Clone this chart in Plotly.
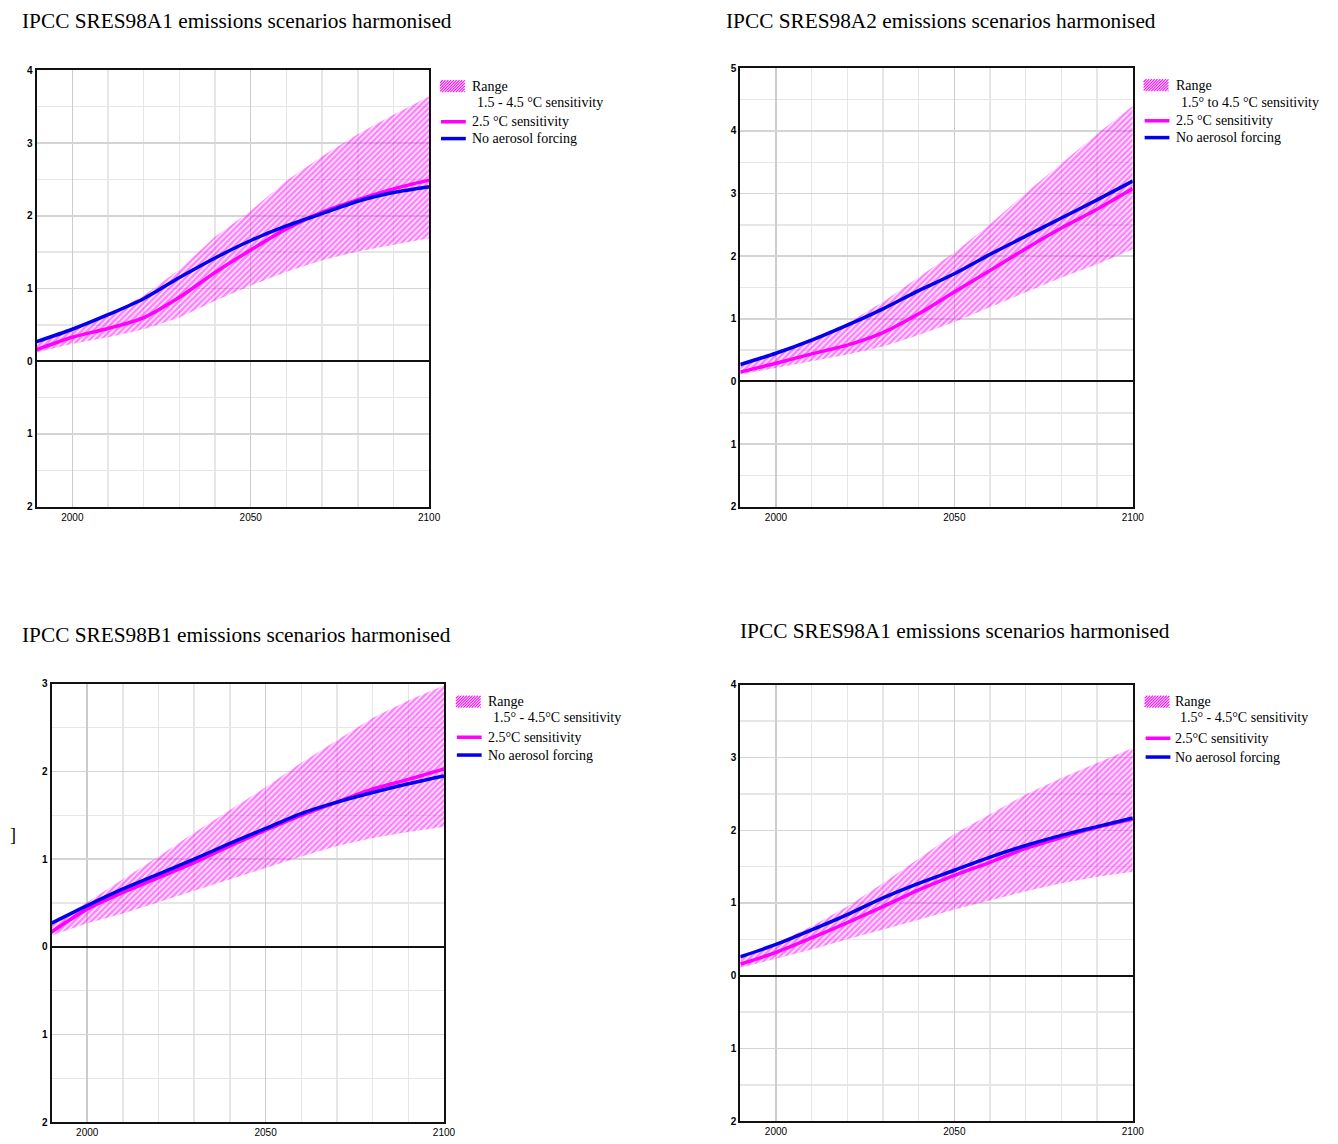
import plotly.graph_objects as go

years = [1990, 2000, 2010, 2020, 2030, 2040, 2050, 2060, 2070, 2080, 2090, 2100]

# Panel 1: SRES98 A1
a1_upper = [0.26, 0.44, 0.64, 0.90, 1.26, 1.71, 2.07, 2.48, 2.82, 3.12, 3.39, 3.64]
a1_lower = [0.12, 0.24, 0.33, 0.44, 0.60, 0.83, 1.04, 1.23, 1.39, 1.51, 1.60, 1.69]
a1_mid = [0.16, 0.33, 0.45, 0.60, 0.88, 1.22, 1.53, 1.82, 2.05, 2.22, 2.37, 2.49]
a1_noaer = [0.27, 0.44, 0.64, 0.86, 1.15, 1.42, 1.66, 1.86, 2.03, 2.20, 2.32, 2.40]

# Panel 2: SRES98 A2
a2_upper = [0.27, 0.46, 0.69, 0.93, 1.27, 1.66, 2.06, 2.51, 3.01, 3.48, 3.95, 4.40]
a2_lower = [0.11, 0.22, 0.32, 0.43, 0.56, 0.74, 0.95, 1.19, 1.43, 1.66, 1.87, 2.11]
a2_mid = [0.15, 0.29, 0.44, 0.58, 0.78, 1.08, 1.43, 1.77, 2.12, 2.45, 2.75, 3.08]
a2_noaer = [0.27, 0.45, 0.66, 0.90, 1.16, 1.45, 1.72, 2.03, 2.32, 2.61, 2.90, 3.20]

# Panel 3: SRES98 B1
b1_upper = [0.25, 0.51, 0.77, 1.03, 1.30, 1.56, 1.82, 2.10, 2.36, 2.61, 2.81, 2.98]
b1_lower = [0.13, 0.27, 0.38, 0.51, 0.64, 0.77, 0.90, 1.03, 1.15, 1.24, 1.31, 1.37]
b1_mid = [0.17, 0.43, 0.62, 0.79, 0.96, 1.15, 1.33, 1.50, 1.65, 1.80, 1.91, 2.03]
b1_noaer = [0.27, 0.47, 0.66, 0.83, 1.00, 1.18, 1.35, 1.52, 1.65, 1.76, 1.86, 1.95]

# Panel 4: SRES98 A1 (second)
a1b_upper = [0.26, 0.45, 0.68, 0.95, 1.27, 1.61, 1.95, 2.22, 2.49, 2.72, 2.93, 3.13]
a1b_lower = [0.11, 0.23, 0.36, 0.50, 0.63, 0.77, 0.91, 1.04, 1.16, 1.27, 1.36, 1.43]
a1b_mid = [0.16, 0.32, 0.52, 0.73, 0.95, 1.18, 1.38, 1.56, 1.75, 1.90, 2.04, 2.15]
a1b_noaer = [0.26, 0.43, 0.63, 0.84, 1.07, 1.27, 1.45, 1.63, 1.79, 1.93, 2.05, 2.17]

titles = [
    "IPCC SRES98A1 emissions scenarios harmonised",
    "IPCC SRES98A2 emissions scenarios harmonised",
    "IPCC SRES98B1 emissions scenarios harmonised",
    "IPCC SRES98A1 emissions scenarios harmonised",
]
range_line1 = "Range"
range_line2 = [
    "1.5 - 4.5 °C sensitivity",
    "1.5° to 4.5 °C sensitivity",
    "1.5° - 4.5°C sensitivity",
    "1.5° - 4.5°C sensitivity",
]
mid_labels = ["2.5 °C sensitivity", "2.5 °C sensitivity", "2.5°C sensitivity", "2.5°C sensitivity"]
noaer_label = "No aerosol forcing"
y_tops = [4, 5, 3, 4]
y_bottom = -2
x_tick_vals = [2000, 2050, 2100]
x_tick_text = ["2000", "2050", "2100"]

panels = [
    (a1_upper, a1_lower, a1_mid, a1_noaer),
    (a2_upper, a2_lower, a2_mid, a2_noaer),
    (b1_upper, b1_lower, b1_mid, b1_noaer),
    (a1b_upper, a1b_lower, a1b_mid, a1b_noaer),
]

W, H = 1338, 1144


def px(xp):
    return xp / W


def py(yp):
    return 1 - yp / H


# pixel boxes in page coordinates (left, right, top, bottom)
boxes = [(37, 433, 65, 506), (747, 1143, 63, 506), (52, 448, 685, 1128), (747, 1143, 686, 1127)]
title_pos = [(20, 15), (731, 15), (20, 636), (745, 632)]
# legend: swatch left, text left, row centres (range, range line 2, mid, no-aerosol)
legend_geo = [
    (444, 474, [81, 98, 117, 134]),
    (1154, 1185, [80, 98, 116, 133]),
    (460, 490, [703, 719, 739, 757]),
    (1155, 1184, [703, 719, 740, 759]),
]

MAG = "#ff00ff"
BLUE = "#0000ee"
LEG_FONT = dict(family="Liberation Serif", size=14, color="black")

fig = go.Figure()
annotations = []
shapes = []
layout = dict(
    width=W, height=H, margin=dict(l=0, r=0, t=0, b=0),
    plot_bgcolor="white", paper_bgcolor="white", showlegend=False,
)

for i, (up, lo, mid, na) in enumerate(panels):
    n = "" if i == 0 else str(i + 1)
    xa, ya = "x" + n, "y" + n
    fig.add_trace(go.Scatter(x=years, y=lo, mode="lines", line=dict(width=0, color=MAG),
                             xaxis=xa, yaxis=ya, hoverinfo="skip"))
    fig.add_trace(go.Scatter(x=years, y=up, mode="lines", line=dict(width=0, color=MAG),
                             fill="tonexty", fillcolor="rgba(0,0,0,0)",
                             fillpattern=dict(shape="/", fgcolor=MAG, bgcolor="rgba(255,255,255,0)",
                                              size=4, solidity=0.65),
                             name=range_line1 + " " + range_line2[i], xaxis=xa, yaxis=ya))
    fig.add_trace(go.Scatter(x=years, y=mid, mode="lines",
                             line=dict(width=3.5, color=MAG, shape="spline", smoothing=0.8),
                             name=mid_labels[i], xaxis=xa, yaxis=ya))
    fig.add_trace(go.Scatter(x=years, y=na, mode="lines",
                             line=dict(width=3.5, color=BLUE, shape="spline", smoothing=0.8),
                             name=noaer_label, xaxis=xa, yaxis=ya))

    l, r, t, b = boxes[i]
    yvals = list(range(y_bottom, y_tops[i] + 1))
    layout["xaxis" + n] = dict(
        domain=[px(l), px(r)], range=[1990, 2100], anchor=ya,
        tickvals=x_tick_vals, ticktext=x_tick_text, showgrid=True, gridcolor="#cccccc", gridwidth=1.5,
        minor=dict(tickvals=list(range(1990, 2101, 10)), showgrid=True, gridcolor="#e6e6e6", gridwidth=1.5),
        showline=True, mirror=True, linecolor="#111111", linewidth=2, ticks="",
        tickfont=dict(family="Liberation Sans", size=10, color="black"), zeroline=False,
        fixedrange=True,
    )
    layout["yaxis" + n] = dict(
        domain=[py(b), py(t)], range=[y_bottom, y_tops[i]], anchor=xa,
        tickvals=yvals, ticktext=["<b>%d</b>" % abs(v) for v in yvals],
        showgrid=True, gridcolor="#d4d4d4", gridwidth=1.5,
        minor=dict(dtick=0.5, showgrid=True, gridcolor="#e6e6e6", gridwidth=1.5),
        showline=True, mirror=True, linecolor="#111111", linewidth=2, ticks="",
        zeroline=True, zerolinecolor="#111111", zerolinewidth=2,
        tickfont=dict(family="Liberation Sans", size=10, color="black"),
        fixedrange=True,
    )

    # title
    tx, ty = title_pos[i]
    annotations.append(dict(
        text=titles[i], x=px(tx), y=py(ty), xref="paper", yref="paper",
        xanchor="left", yanchor="middle", showarrow=False,
        font=dict(family="Liberation Serif", size=21.3, color="black"),
    ))

    # legend (drawn manually)
    sx, tx2, rows = legend_geo[i]
    texts = [range_line1, range_line2[i], mid_labels[i], noaer_label]
    offs = [0, 5, 0, 0]
    for txt, ry, o in zip(texts, rows, offs):
        annotations.append(dict(
            text=txt, x=px(tx2 + o), y=py(ry), xref="paper", yref="paper",
            xanchor="left", yanchor="middle", showarrow=False, font=LEG_FONT,
        ))
    # hatched swatch
    x0, x1 = sx, sx + 25
    yt, yb = rows[0] - 6, rows[0] + 6
    hgt = yb - yt
    k = x0 - hgt
    while k < x1:
        ax, ay, bx, by = k, yb, k + hgt, yt
        if ax < x0:
            ay = yb - (x0 - ax)
            ax = x0
        if bx > x1:
            by = yt + (bx - x1)
            bx = x1
        if bx > ax:
            shapes.append(dict(type="line", xref="paper", yref="paper",
                               x0=px(ax), y0=py(ay), x1=px(bx), y1=py(by),
                               line=dict(color=MAG, width=1.1)))
        k += 2.8
    # line swatches
    for ry, col in ((rows[2], MAG), (rows[3], BLUE)):
        shapes.append(dict(type="line", xref="paper", yref="paper",
                           x0=px(sx + 1), y0=py(ry), x1=px(sx + 26), y1=py(ry),
                           line=dict(color=col, width=3.5)))

annotations.append(dict(
    text="]", x=px(13), y=py(838), xref="paper", yref="paper",
    xanchor="center", yanchor="middle", showarrow=False,
    font=dict(family="Liberation Serif", size=18, color="black"),
))

layout["annotations"] = annotations
layout["shapes"] = shapes
fig.update_layout(**layout)

pin = (
    "document.documentElement.style.margin='0';"
    "document.body.style.margin='0';document.body.style.overflow='hidden';"
    "var d=document.getElementById('{plot_id}');"
    "d.style.position='absolute';d.style.left='0px';d.style.top='0px';"
)
fig.write_html("out.html", post_script=pin, config={"displayModeBar": False, "staticPlot": True})
